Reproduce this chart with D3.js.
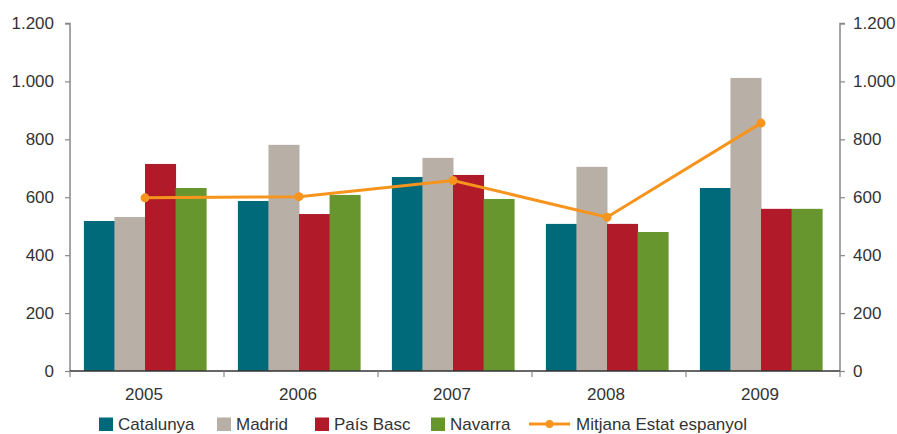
<!DOCTYPE html>
<html><head><meta charset="utf-8">
<script src="https://cdn.jsdelivr.net/npm/d3@7"></script>
<style>body{margin:0;background:#fff}svg{display:block}text{font-family:"Liberation Sans",Arial,sans-serif;fill:#333}</style>
</head><body><svg id="c" width="897" height="434"></svg>
<script>
const years = ["2005","2006","2007","2008","2009"];
const seriesNames = ["Catalunya","Madrid","País Basc","Navarra"];
const catalunya = [518, 587, 670, 508, 632];
const madrid = [532, 781, 736, 705, 1012];
const paisBasc = [715, 542, 677, 508, 560];
const navarra = [632, 608, 594, 480, 560];
const mitjana = [598, 602, 658, 531, 856];
const lineName = "Mitjana Estat espanyol";
const yTicks = [0, 200, 400, 600, 800, 1000, 1200];
const colors = ["#006a7a", "#b8b0a6", "#b01a29", "#67962e"];
const lineColor = "#f7941d";

const svg = d3.select("#c");
const L = 70, R = 840, T = 23.5, B = 371;
const FS = 17;
const x = d3.scaleBand().domain(years).range([L, R]).paddingInner(0).paddingOuter(0);
const y = d3.scaleLinear().domain([0, 1200]).range([B, T]);
const inner = d3.scaleBand().domain(seriesNames).range([0, x.bandwidth()]).paddingOuter(0.52).paddingInner(0);
const fmt = v => d3.format(",")(v).replace(/,/g, ".");
const data = [catalunya, madrid, paisBasc, navarra];

// bars
data.forEach((vals, si) => {
  svg.append("g").selectAll("rect").data(vals).join("rect")
    .attr("x", (d, i) => x(years[i]) + inner(seriesNames[si]) - 2)
    .attr("width", inner.bandwidth() + 0.5)
    .attr("y", d => y(d))
    .attr("height", d => B - y(d))
    .attr("fill", colors[si]);
});

// axes
const la = svg.append("g").attr("transform", `translate(${L},0)`)
  .call(d3.axisLeft(y).tickValues(yTicks).tickFormat(fmt).tickSize(5).tickPadding(11));
const ra = svg.append("g").attr("transform", `translate(${R},0)`)
  .call(d3.axisRight(y).tickValues(yTicks).tickFormat(fmt).tickSize(5).tickPadding(8));
[la, ra].forEach(g => {
  g.select(".domain").attr("stroke", "#888").attr("stroke-width", 1.5);
  g.selectAll(".tick line").attr("stroke", "#888").attr("stroke-width", 1.2);
  g.selectAll(".tick text").attr("font-size", FS).attr("fill", "#333")
    .attr("font-family", '"Liberation Sans",Arial,sans-serif');
});
la.select(".domain").attr("d", `M-5,${T}H0V${B}`);
ra.select(".domain").attr("d", `M5,${T}H0V${B}`);

// x axis
const xa = svg.append("g").attr("transform", `translate(0,${B})`);
xa.append("line").attr("x1", L).attr("x2", R).attr("stroke", "#333").attr("stroke-width", 1.5);
const bounds = years.map(d => x(d)).concat([R]);
xa.selectAll("line.t").data(bounds).join("line").attr("class", "t")
  .attr("x1", d => d).attr("x2", d => d).attr("y1", 0).attr("y2", 6)
  .attr("stroke", "#888").attr("stroke-width", 1.2);
xa.selectAll("text").data(years).join("text")
  .attr("x", d => x(d) + x.bandwidth() / 2 - 3).attr("y", 29)
  .attr("text-anchor", "middle").attr("font-size", FS).text(d => d);

// line
const lx = (d, i) => x(years[i]) + x.bandwidth() / 2 - 2;
svg.append("path").datum(mitjana)
  .attr("d", d3.line().x(lx).y(d => y(d)))
  .attr("fill", "none").attr("stroke", lineColor).attr("stroke-width", 3);
svg.append("g").selectAll("circle").data(mitjana).join("circle")
  .attr("cx", lx).attr("cy", d => y(d)).attr("r", 4.5).attr("fill", lineColor);

// legend
const lg = svg.append("g");
const legX = [99, 217, 315, 431];
seriesNames.forEach((n, i) => {
  lg.append("rect").attr("x", legX[i]).attr("y", 417.5).attr("width", 14).attr("height", 13.5).attr("fill", colors[i]);
  lg.append("text").attr("x", legX[i] + 19).attr("y", 429.5).attr("font-size", FS).text(n);
});
lg.append("line").attr("x1", 529).attr("x2", 570).attr("y1", 424).attr("y2", 424).attr("stroke", lineColor).attr("stroke-width", 3);
lg.append("circle").attr("cx", 549.5).attr("cy", 424).attr("r", 4).attr("fill", lineColor);
lg.append("text").attr("x", 576).attr("y", 429.5).attr("font-size", FS).text(lineName);
</script></body></html>
